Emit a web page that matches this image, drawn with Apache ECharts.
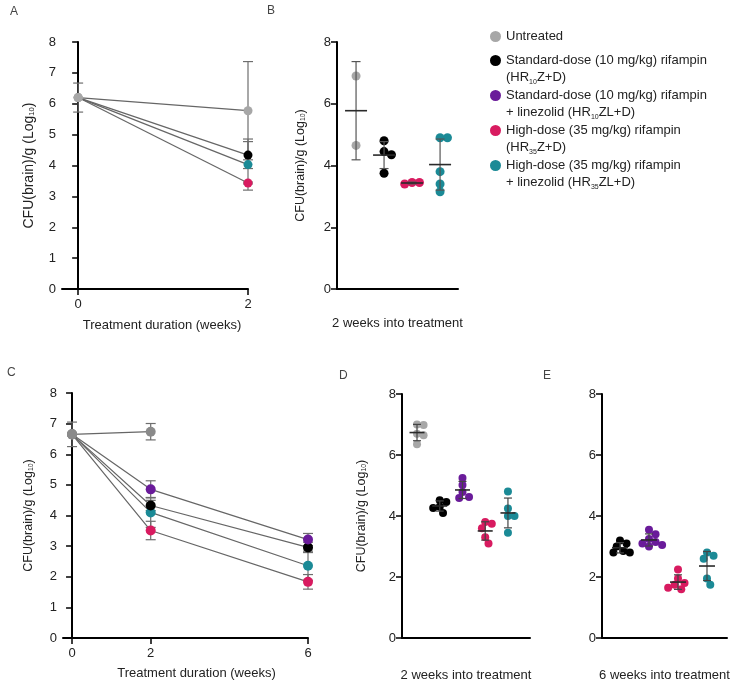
<!DOCTYPE html>
<html>
<head>
<meta charset="utf-8">
<script src="https://cdn.jsdelivr.net/npm/echarts@6/dist/echarts.min.js"></script>
<style>
  html, body { margin: 0; padding: 0; background: #fff; }
  #chart { width: 750px; height: 686px; }
</style>
</head>
<body>
<div id="chart"></div>
<script>
// treatment groups (index used everywhere below)
const groupNames = [
  'Untreated',
  'Standard-dose (10 mg/kg) rifampin (HR10Z+D)',
  'Standard-dose (10 mg/kg) rifampin + linezolid (HR10ZL+D)',
  'High-dose (35 mg/kg) rifampin (HR35Z+D)',
  'High-dose (35 mg/kg) rifampin + linezolid (HR35ZL+D)'
];
const legendLabels = [
  '{g| }\nUntreated\n{g| }',
  ' \nStandard-dose (10 mg/kg) rifampin\n(HR{s|10}Z+D)',
  ' \nStandard-dose (10 mg/kg) rifampin\n+ linezolid (HR{s|10}ZL+D)',
  ' \nHigh-dose (35 mg/kg) rifampin\n(HR{s|35}Z+D)',
  ' \nHigh-dose (35 mg/kg) rifampin\n+ linezolid (HR{s|35}ZL+D)'
];
const groupColors = ['#a7a7a7', '#000000', '#6a1b9a', '#d81b60', '#1b8a96'];

// experiment 1 (panels A, B): week 0 baseline and individual mice at week 2
const aBaseMean = 6.2;
const aBaseSd = 0.47;
const bUntreated = [6.9, 4.65];
const bStd = [4.8, 4.45, 4.35, 3.75];
const bHigh = [3.45, 3.45, 3.4];
const bHighLzd = [4.9, 4.9, 3.8, 3.4, 3.15];

// experiment 2 (panels C, D, E): week 0 baseline, week 2 and week 6 mice
const cBaseMean = 6.65;
const cBaseSd = 0.4;
const dUntreated = [7.0, 6.98, 6.7, 6.65, 6.35];
const dStd = [4.52, 4.46, 4.3, 4.26, 4.1];
const dStdLzd = [5.25, 5.02, 4.79, 4.62, 4.59];
const dHigh = [3.8, 3.75, 3.6, 3.3, 3.1];
const dHighLzd = [4.8, 4.25, 4.0, 4.0, 3.45];
const eStd = [3.2, 3.1, 3.0, 2.85, 2.8, 2.8];
const eStdLzd = [3.55, 3.4, 3.25, 3.15, 3.1, 3.05, 3.0];
const eHigh = [2.25, 1.95, 1.8, 1.75, 1.65, 1.6];
const eHighLzd = [2.8, 2.7, 2.6, 1.95, 1.75];

const font = 'Liberation Sans, Arial, sans-serif';
const barColor = '#6e6e6e';

function mean(a) { return a.reduce((s, v) => s + v, 0) / a.length; }
function sd(a) {
  const m = mean(a);
  return Math.sqrt(a.reduce((s, v) => s + (v - m) * (v - m), 0) / (a.length - 1));
}

// simple beeswarm: spread overlapping dots sideways (pixel scales given per panel)
function swarm(values, center, pxX, pxY, size) {
  const placed = [];
  const d = size * 0.82;
  const steps = [0, 0.5, -0.5, 1, -1, 1.5, -1.5, 2, -2, 2.5, -2.5];
  return values.slice().sort((a, b) => b - a).map((v) => {
    const py = v * pxY;
    let ox = 0;
    for (const k of steps) {
      const cx = k * d;
      if (placed.every((p) => Math.hypot(p[0] - cx, p[1] - py) >= d)) { ox = cx; break; }
    }
    placed.push([ox, py]);
    return [center + ox / pxX, v];
  });
}

// error bar (+ optional mean line) drawn in pixel space from data values
function whisker(capW, meanW, color) {
  return function (params, api) {
    const x = api.value(0);
    const mid = api.coord([x, api.value(1)]);
    const lo = api.coord([x, api.value(2)]);
    const hi = api.coord([x, api.value(3)]);
    const st = { stroke: color, lineWidth: 1.2 };
    const kids = [
      { type: 'line', shape: { x1: lo[0], y1: lo[1], x2: hi[0], y2: hi[1] }, style: st },
      { type: 'line', shape: { x1: lo[0] - capW / 2, y1: lo[1], x2: lo[0] + capW / 2, y2: lo[1] }, style: st },
      { type: 'line', shape: { x1: hi[0] - capW / 2, y1: hi[1], x2: hi[0] + capW / 2, y2: hi[1] }, style: st }
    ];
    if (meanW) {
      kids.push({ type: 'line', shape: { x1: mid[0] - meanW / 2, y1: mid[1], x2: mid[0] + meanW / 2, y2: mid[1] },
        style: { stroke: '#2a2a2a', lineWidth: 1.6 } });
    }
    return { type: 'group', children: kids };
  };
}
function mbar(x, m, s) { return [x, m, m - s, m + s]; }

const yName = '{a|CFU(brain)/g (Log}{s|10}{a|)}';
function yNameStyle(size) {
  return {
    rich: {
      a: { fontFamily: font, fontSize: size, color: '#222' },
      s: { fontFamily: font, fontSize: size * 0.55, color: '#222', verticalAlign: 'bottom', padding: [size * 0.45, 0, 0, 0] }
    }
  };
}
const axisLineStyle = { show: true, lineStyle: { color: '#000', width: 2 } };
const tickStyle = { show: true, length: 6, lineStyle: { color: '#000', width: 1.5 } };
const labelStyle = { fontFamily: font, fontSize: 13, color: '#222', margin: 6 };

const grids = [
  { left: 62, top: 42, width: 186, height: 247 },   // A
  { left: 337, top: 42, width: 121, height: 247 },  // B
  { left: 63, top: 393, width: 245, height: 245 },  // C
  { left: 402, top: 394, width: 128, height: 244 }, // D
  { left: 602, top: 394, width: 125, height: 244 }  // E
].map((g) => Object.assign({ containLabel: false, outerBoundsMode: 'none' }, g));

function xTime(grid, min, max, ticks, name, shift, gap) {
  return {
    type: 'value', gridIndex: grid, min: min, max: max,
    axisLine: axisLineStyle, splitLine: { show: false },
    axisTick: Object.assign({ customValues: ticks }, tickStyle),
    axisLabel: Object.assign({ customValues: ticks }, labelStyle, { margin: 9 }),
    name: name, nameLocation: 'middle', nameGap: gap, nameMoveOverlap: false,
    nameTextStyle: { fontFamily: font, fontSize: 13, color: '#222', padding: [0, 0, 0, shift] }
  };
}
function xGroups(grid, min, max, name, gap) {
  return {
    type: 'value', gridIndex: grid, min: min, max: max,
    axisLine: axisLineStyle, splitLine: { show: false },
    axisTick: { show: false }, axisLabel: { show: false },
    name: name, nameLocation: 'middle', nameGap: gap, nameMoveOverlap: false,
    nameTextStyle: { fontFamily: font, fontSize: 13, color: '#222' }
  };
}
function yAxis(grid, interval, name, gap, size) {
  return {
    type: 'value', gridIndex: grid, min: 0, max: 8, interval: interval,
    axisLine: axisLineStyle, splitLine: { show: false },
    axisTick: tickStyle, axisLabel: labelStyle,
    name: name, nameLocation: 'middle', nameGap: gap, nameMoveOverlap: false,
    nameTextStyle: yNameStyle(size)
  };
}

const series = [];

// ---- panel A: means over time (week 2 derived from panel B mice)
const bSets = [bUntreated, bStd, null, bHigh, bHighLzd];
const aBars = [mbar(0, aBaseMean, aBaseSd)];
[4, 3, 1, 0].forEach((g) => {
  const m = mean(bSets[g]);
  aBars.push(mbar(2, m, sd(bSets[g])));
  series.push({
    type: 'line', name: groupNames[g], xAxisIndex: 0, yAxisIndex: 0, z: 3,
    symbol: 'circle', symbolSize: 9,
    itemStyle: { color: groupColors[g] },
    lineStyle: { color: '#666', width: 1.2 },
    data: [{ value: [0, aBaseMean], itemStyle: { color: groupColors[0] } }, [2, m]]
  });
});
series.push({
  type: 'custom', xAxisIndex: 0, yAxisIndex: 0, z: 2, silent: true,
  renderItem: whisker(10, 0, barColor), encode: { x: 0, y: [1, 2, 3] }, data: aBars
});

// ---- panel B: individual mice, week 2
const bCols = [0, 1, 3, 4];
const bMeans = [];
bCols.forEach((g, i) => {
  const vals = bSets[g];
  bMeans.push(mbar(i + 1, mean(vals), sd(vals)));
  series.push({
    type: 'scatter', name: groupNames[g], xAxisIndex: 1, yAxisIndex: 1, z: 3,
    symbolSize: 9, itemStyle: { color: groupColors[g], opacity: 1 },
    data: swarm(vals, i + 1, 28, 30.9, 9)
  });
});
series.push({
  type: 'custom', xAxisIndex: 1, yAxisIndex: 1, z: 4, silent: true,
  renderItem: whisker(9, 22, '#555'), encode: { x: 0, y: [1, 2, 3] }, data: bMeans
});

// ---- panel C: means over time (weeks 2 and 6 derived from panels D and E)
const dSets = [dUntreated, dStd, dStdLzd, dHigh, dHighLzd];
const eSets = [null, eStd, eStdLzd, eHigh, eHighLzd];
const cBars = [mbar(0, cBaseMean, cBaseSd)];
[3, 4, 1, 2, 0].forEach((g) => {
  const pts = [{ value: [0, cBaseMean], itemStyle: { color: '#8a8a8a' } }, [2, mean(dSets[g])]];
  cBars.push(mbar(2, mean(dSets[g]), sd(dSets[g])));
  if (eSets[g]) {
    pts.push([6, mean(eSets[g])]);
    cBars.push(mbar(6, mean(eSets[g]), sd(eSets[g])));
  }
  series.push({
    type: 'line', name: groupNames[g], xAxisIndex: 2, yAxisIndex: 2, z: 3,
    symbol: 'circle', symbolSize: 10,
    itemStyle: { color: g === 0 ? '#8a8a8a' : groupColors[g] },
    lineStyle: { color: '#666', width: 1.2 },
    data: pts
  });
});
series.push({
  type: 'custom', xAxisIndex: 2, yAxisIndex: 2, z: 2, silent: true,
  renderItem: whisker(10, 0, barColor), encode: { x: 0, y: [1, 2, 3] }, data: cBars
});

// ---- panel D: individual mice, week 2
const dMeans = [];
dSets.forEach((vals, g) => {
  dMeans.push(mbar(g + 1, mean(vals), sd(vals)));
  series.push({
    type: 'scatter', name: groupNames[g], xAxisIndex: 3, yAxisIndex: 3, z: 3,
    symbolSize: 8, itemStyle: { color: groupColors[g], opacity: 1 },
    data: swarm(vals, g + 1, 22.7, 30.5, 8)
  });
});
series.push({
  type: 'custom', xAxisIndex: 3, yAxisIndex: 3, z: 4, silent: true,
  renderItem: whisker(8, 15, '#444'), encode: { x: 0, y: [1, 2, 3] }, data: dMeans
});

// ---- panel E: individual mice, week 6
const eMeans = [];
[1, 2, 3, 4].forEach((g, i) => {
  const vals = eSets[g];
  eMeans.push(mbar(i + 1, mean(vals), sd(vals)));
  series.push({
    type: 'scatter', name: groupNames[g], xAxisIndex: 4, yAxisIndex: 4, z: 3,
    symbolSize: 8, itemStyle: { color: groupColors[g], opacity: 1 },
    data: swarm(vals, i + 1, 29, 30.5, 8)
  });
});
series.push({
  type: 'custom', xAxisIndex: 4, yAxisIndex: 4, z: 4, silent: true,
  renderItem: whisker(8, 16, '#444'), encode: { x: 0, y: [1, 2, 3] }, data: eMeans
});

const panelLetters = [['A', 10, 6], ['B', 267, 5], ['C', 7, 367], ['D', 339, 370], ['E', 543, 370]];

const chart = echarts.init(document.getElementById('chart'), null, { renderer: 'canvas' });
chart.setOption({
  backgroundColor: '#fff',
  animation: false,
  textStyle: { fontFamily: font },
  grid: grids,
  xAxis: [
    xTime(0, -0.19, 2, [0, 2], 'Treatment duration (weeks)', 14, 30),
    xGroups(1, 0.32, 4.64, '2 weeks into treatment', 28),
    xTime(2, -0.23, 6, [0, 2, 6], 'Treatment duration (weeks)', 22, 29),
    xGroups(3, 0.34, 5.97, '2 weeks into treatment', 31),
    xGroups(4, 0.38, 4.69, '6 weeks into treatment', 31)
  ],
  yAxis: [
    yAxis(0, 1, yName, 26, 14),
    yAxis(1, 2, yName, 30, 12.5),
    yAxis(2, 1, yName, 28, 12.5),
    yAxis(3, 2, yName, 34, 12.5),
    yAxis(4, 2, '', 0, 12)
  ],
  legend: {
    data: groupNames, orient: 'vertical', left: 485, top: 17, padding: 5,
    itemGap: -16, itemWidth: 11, itemHeight: 11, icon: 'circle', selectedMode: false,
    formatter: (name) => legendLabels[groupNames.indexOf(name)],
    textStyle: {
      fontFamily: font, fontSize: 13, color: '#222', lineHeight: 17,
      rich: {
        s: { fontFamily: font, fontSize: 7, lineHeight: 17, color: '#222', verticalAlign: 'bottom', padding: [6, 0, 0, 0] },
        g: { fontFamily: font, fontSize: 4, lineHeight: 6 }
      }
    }
  },
  graphic: panelLetters.map((p) => ({
    type: 'text', left: p[1], top: p[2],
    style: { text: p[0], fontFamily: font, fontSize: 12, fill: '#444' }
  })),
  series: series
});
</script>
</body>
</html>
